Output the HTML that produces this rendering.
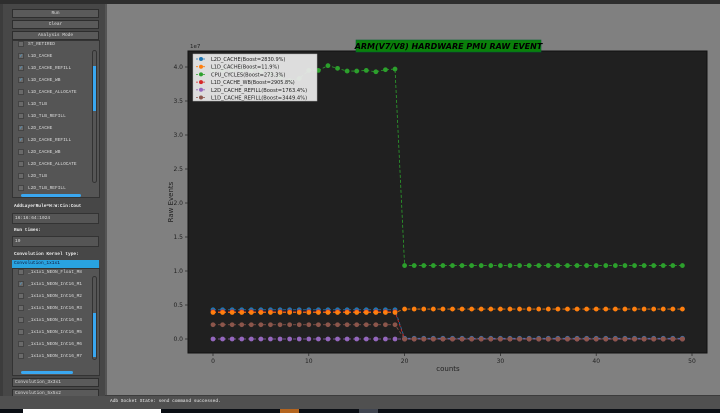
<!DOCTYPE html>
<html><head><meta charset="utf-8">
<style>
*{margin:0;padding:0;box-sizing:border-box}
body{width:720px;height:413px;overflow:hidden;background:#3c3c3c;font-family:"Liberation Mono",monospace;position:relative}
.abs{position:absolute}
.btn{position:absolute;left:12px;width:87px;height:9px;background:#5a5a5a;border:1px solid #2e2e2e;color:#ddd;font-size:4.5px;line-height:7px;text-align:center}
.item{position:absolute;left:18px;height:9px;font-size:4.5px;line-height:9px;color:#ddd;white-space:nowrap}
.cb{display:inline-block;width:6px;height:6px;background:#6a6a6a;border:1px solid #444;vertical-align:middle;margin-right:4px;color:#4ab0f0;font-size:5px;line-height:5px;text-align:center}
.lbl{position:absolute;left:14px;font-size:4.5px;color:#eee;font-weight:bold}
</style></head><body>
<div class="abs" style="left:0;top:0;width:720px;height:4px;background:#2e2e2e"></div>
<div class="abs" style="left:3px;top:4px;width:102px;height:393px;background:#474747"></div>
<div class="abs" style="left:105px;top:4px;width:615px;height:391px;background:#808080;border-left:2px solid #555"></div>

<div class="btn" style="top:9px">Run</div>
<div class="btn" style="top:20px">Clear</div>
<div class="btn" style="top:31px">Analysis Mode</div>

<div class="abs" style="left:12px;top:40px;width:88px;height:158px;background:#555;border:1px solid #333"></div>
<div class="abs" style="left:92px;top:50px;width:5px;height:133px;border:1px solid #333;border-radius:3px"></div>
<div class="abs" style="left:93px;top:66px;width:3px;height:45px;background:#3aa7f0"></div>
<div class="abs" style="left:21px;top:194px;width:60px;height:3px;background:#3aa7f0;border-radius:2px"></div>
<div id="list1"></div>

<div class="lbl" style="top:204px">AddLayerRule=H:W:Cin:Cout</div>
<div class="abs" style="left:12px;top:213px;width:87px;height:11px;background:#555;border:1px solid #333;font-size:4.5px;color:#ddd;padding-left:2px;line-height:9px">16:16:64:1024</div>
<div class="lbl" style="top:228px">Run times:</div>
<div class="abs" style="left:12px;top:236px;width:87px;height:11px;background:#555;border:1px solid #333;font-size:4.5px;color:#ddd;padding-left:2px;line-height:9px">10</div>
<div class="lbl" style="top:252px">Convolution Kernel type:</div>
<div class="abs" style="left:12px;top:260px;width:87px;height:8px;background:#29a3e0;font-size:4.5px;color:#113;padding-left:2px;line-height:8px">Convolution_1x1x1</div>
<div class="abs" style="left:12px;top:268px;width:88px;height:108px;background:#555;border:1px solid #333"></div>
<div class="abs" style="left:92px;top:276px;width:5px;height:84px;border:1px solid #333;border-radius:3px"></div>
<div class="abs" style="left:93px;top:313px;width:3px;height:44px;background:#3aa7f0"></div>
<div class="abs" style="left:21px;top:371px;width:52px;height:3px;background:#3aa7f0;border-radius:2px"></div>
<div id="list2"></div>
<div class="btn" style="top:378px;text-align:left;padding-left:2px">Convolution_3x3x1</div>
<div class="btn" style="top:389px;text-align:left;padding-left:2px">Convolution_5x5x2</div>

<div class="abs" style="left:0;top:396px;width:720px;height:13px;background:#505050;font-size:4.5px;color:#eee;padding-left:110px;line-height:12px">Adb Socket State: send command successed.</div>
<div class="abs" style="left:0;top:409px;width:720px;height:4px;background:#0a0e14"></div>
<div class="abs" style="left:23px;top:409px;width:138px;height:4px;background:#fff"></div>
<div class="abs" style="left:280px;top:409px;width:19px;height:4px;background:#b4641e"></div>
<div class="abs" style="left:359px;top:409px;width:19px;height:4px;background:#404550"></div>

<svg class="abs" style="left:0;top:0" width="720" height="413" id="chart"></svg>

<script>
const list1=[["ST_RETIRED",0],["L1D_CACHE",1],["L1D_CACHE_REFILL",1],["L1D_CACHE_WB",1],["L1D_CACHE_ALLOCATE",0],["L1D_TLB",0],["L1D_TLB_REFILL",0],["L2D_CACHE",1],["L2D_CACHE_REFILL",1],["L2D_CACHE_WB",0],["L2D_CACHE_ALLOCATE",0],["L2D_TLB",0],["L2D_TLB_REFILL",0]];
const list2=[["_1x1x1_NEON_Float_M8",0],["_1x1x1_NEON_Int16_M1",1],["_1x1x1_NEON_Int16_M2",0],["_1x1x1_NEON_Int16_M3",0],["_1x1x1_NEON_Int16_M4",0],["_1x1x1_NEON_Int16_M5",0],["_1x1x1_NEON_Int16_M6",0],["_1x1x1_NEON_Int16_M7",0]];
function fill(id,arr,top,step){const c=document.getElementById(id);arr.forEach((a,i)=>{const d=document.createElement('div');d.className='item';d.style.top=(top+i*step)+'px';


d.innerHTML='<span class="cb">'+(a[1]?'✓':'')+'</span>'+a[0];c.appendChild(d);});}
fill('list1',list1,40,12);fill('list2',list2,268,12);

// chart data
const counts=Array.from({length:50},(_,i)=>i);
const names=["L2D_CACHE(Boost=2830.9%)","L1D_CACHE(Boost=11.9%)","CPU_CYCLES(Boost=273.3%)","L1D_CACHE_WB(Boost=2905.8%)","L2D_CACHE_REFILL(Boost=1763.4%)","L1D_CACHE_REFILL(Boost=3449.4%)"];
const colors=["#1f77b4","#ff7f0e","#2ca02c","#d62728","#9467bd","#8c564b"];
const rep=(v,n)=>Array(n).fill(v);
const l2dCache=[...rep(0.43,20),...rep(0.01,30)];
const l1dCache=[...rep(0.39,20),...rep(0.44,30)];
const cpuCycles=[3.95,3.95,3.95,3.95,3.95,3.94,3.9,3.85,3.8,3.83,3.95,3.95,4.02,3.98,3.94,3.94,3.95,3.93,3.96,3.97,...rep(1.08,30)];
const l1dCacheWb=[...rep(0.40,20),...rep(0.0,30)];
const l2dCacheRefill=[...rep(0.0,20),...rep(0.0,30)];
const l1dCacheRefill=[...rep(0.21,20),...rep(0.0,30)];
const series=[l2dCache,l1dCache,cpuCycles,l1dCacheWb,l2dCacheRefill,l1dCacheRefill];
const drawOrder=[2,0,3,1,4,5];
const xTicks=[0,10,20,30,40,50];
const yTicks=[0.0,0.5,1.0,1.5,2.0,2.5,3.0,3.5,4.0];

const svg=document.getElementById('chart');const NS='http://www.w3.org/2000/svg';
const L=188,T=51,R=707,B=353;
const X=v=>213+v*9.58;const Y=v=>339-v*68;
function mk(tag,at,parent){const e=document.createElementNS(NS,tag);for(const k in at)e.setAttribute(k,at[k]);(parent||svg).appendChild(e);return e;}
const clip=mk('clipPath',{id:'cp'});mk('rect',{x:L,y:T,width:R-L,height:B-T},clip);
const ax=mk('rect',{x:L,y:T,width:R-L,height:B-T,fill:'#202020',stroke:'#111','stroke-width':1});


xTicks.forEach(t=>{mk('line',{x1:X(t),x2:X(t),y1:B,y2:B+3,stroke:'#222','stroke-width':0.7});
const tx=mk('text',{x:X(t),y:B+10,'font-size':6,'text-anchor':'middle',fill:'#222','font-family':'DejaVu Sans, sans-serif'});tx.textContent=t;

});
yTicks.forEach(t=>{mk('line',{x1:L-3,x2:L,y1:Y(t),y2:Y(t),stroke:'#222','stroke-width':0.7});
const tx=mk('text',{x:L-5,y:Y(t)+2,'font-size':6,'text-anchor':'end',fill:'#222','font-family':'DejaVu Sans, sans-serif'});tx.textContent=t.toFixed(1);

});
const g=mk('g',{'clip-path':'url(#cp)'});
drawOrder.forEach(si=>{const s=series[si];
const pl=mk('polyline',{points:s.map((v,i)=>X(counts[i])+','+Y(v)).join(' '),fill:'none',stroke:colors[si],'stroke-width':0.8,'stroke-dasharray':'3,2'},g);


s.forEach((v,i)=>{const c=mk('circle',{cx:X(counts[i]),cy:Y(v),r:2.4,fill:colors[si]},g);

});});
// legend
const lg=mk('g',{});


mk('rect',{x:193,y:54,width:124,height:47,fill:'#e8e8e8',stroke:'#bbb','stroke-width':0.5,opacity:0.95},lg);
names.forEach((n,i)=>{const y=59+i*7.7;
mk('line',{x1:196,x2:206,y1:y,y2:y,stroke:colors[i],'stroke-width':0.8,'stroke-dasharray':'2,1.5'},lg);
mk('circle',{cx:201,cy:y,r:2,fill:colors[i]},lg);
const t=mk('text',{x:211,y:y+2,'font-size':5,fill:'#222','font-family':'DejaVu Sans, sans-serif',textLength:n.length*3.1,lengthAdjust:'spacingAndGlyphs'},lg);t.textContent=n;

});
// labels
const e7=mk('text',{x:190,y:48,'font-size':5.5,fill:'#222','font-family':'DejaVu Sans, sans-serif'});e7.textContent='1e7';


const yl=mk('text',{x:0,y:0,'font-size':7,fill:'#222','text-anchor':'middle','font-family':'DejaVu Sans, sans-serif',transform:'translate(173,202) rotate(-90)'});yl.textContent='Raw Events';


const xl=mk('text',{x:448,y:371,'font-size':7,fill:'#222','text-anchor':'middle','font-family':'DejaVu Sans, sans-serif'});xl.textContent='counts';


mk('rect',{x:356,y:40,width:185,height:12,fill:'#0a800a',stroke:'#063','stroke-width':0.6});
const tt=mk('text',{x:448.5,y:49,'font-size':8,'font-weight':'bold','font-style':'italic',fill:'#000','text-anchor':'middle','font-family':'DejaVu Sans, sans-serif'});tt.textContent='ARM(V7/V8) HARDWARE PMU RAW EVENT';


</script>
</body></html>
